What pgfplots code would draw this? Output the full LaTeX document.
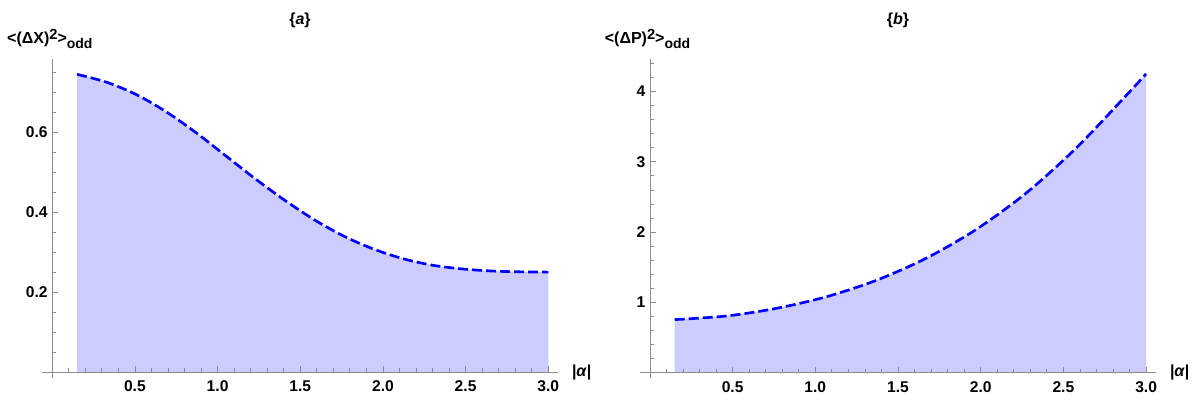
\documentclass[border=0pt]{standalone}
\usepackage{fontspec}
\setmainfont{Liberation Sans}
\usepackage{pgfplots}
\pgfplotsset{compat=1.18}
\usepgfplotslibrary{fillbetween}
\definecolor{fillc}{RGB}{204,204,255}
\definecolor{axc}{RGB}{140,140,140}
\newcommand{\tf}{\fontsize{11.7}{14}\selectfont\bfseries}
\newcommand{\lf}{\fontsize{12}{14}\selectfont\bfseries}
\pgfplotsset{mma/.style={
  axis lines=middle,
  axis line style={axc, -, line width=0.6pt},
  tick style={axc, line width=0.6pt},
  tick align=inside,
  major tick length=4.5pt, minor tick length=3pt,
  width=387pt, height=238.8pt, scale only axis,
  xtick={0.5,1,1.5,2,2.5,3}, xticklabels={0.5,1.0,1.5,2.0,2.5,3.0},
  minor xtick={0.1,0.2,0.3,0.4,0.6,0.7,0.8,0.9,1.1,1.2,1.3,1.4,1.6,1.7,1.8,1.9,2.1,2.2,2.3,2.4,2.6,2.7,2.8,2.9},
  tick label style={font=\tf, black},
  xticklabel style={yshift=-3pt},
  /pgf/number format/assume math mode=true,
  clip=false, axis on top,
}}
\pgfplotstableread{
a v
0.15 0.745
0.33 0.725
0.51 0.694
0.69 0.651
0.87 0.599
1.05 0.541
1.23 0.483
1.41 0.429
1.59 0.380
1.77 0.339
1.95 0.307
2.13 0.283
2.31 0.267
2.49 0.258
2.67 0.253
2.85 0.251
3.00 0.2505
}\dataX
\pgfplotstableread{
a v
0.15 0.755
0.464 0.807
0.766 0.916
1.068 1.081
1.371 1.316
1.673 1.631
1.975 2.041
2.278 2.561
2.58 3.201
2.882 3.950
3.00 4.250
}\dataP
\begin{document}
\begin{tikzpicture}
\begin{axis}[mma, at={(0,0)}, anchor=south west,
  xmin=-0.062, xmax=3.059, ymin=-0.0135, ymax=0.7825,
  ytick={0.2,0.4,0.6}, yticklabels={0.2,0.4,0.6},
  minor ytick={0.05,0.1,0.15,0.25,0.3,0.35,0.45,0.5,0.55,0.65,0.7,0.75}]
\addplot[name path=A, draw=none, smooth] table[x=a,y=v] {\dataX};
\addplot[name path=B, draw=none] coordinates {(0.15,0) (3,0)};
\addplot[fill=fillc, draw=none] fill between[of=A and B];
\addplot[blue, line width=2pt, dash pattern=on 7.5pt off 3pt, smooth] table[x=a,y=v] {\dataX};
\node[anchor=base west, inner sep=0, font=\lf, xshift=-34pt, yshift=12.2pt] at (axis cs:0,0.7825)
  {<(ΔX)\raisebox{3pt}{\fontsize{11}{12}\selectfont 2}>\raisebox{-3.75pt}{\fontsize{10.5}{12}\selectfont odd}};
\node[anchor=west, inner sep=0, font=\lf, xshift=10.3pt] at (axis cs:3.059,0) {|\textit{α}|};
\node[inner sep=0, font=\lf, yshift=29pt] at (rel axis cs:0.5,1) {\{\textit{a}\}};
\end{axis}
\begin{axis}[mma, at={(448.5pt,0)}, anchor=south west,
  xmin=-0.06, xmax=3.06, ymin=-0.071, ymax=4.458,
  ytick={1,2,3,4}, yticklabels={1,2,3,4},
  minor ytick={0.2,0.4,0.6,0.8,1.2,1.4,1.6,1.8,2.2,2.4,2.6,2.8,3.2,3.4,3.6,3.8,4.2,4.4}]
\addplot[name path=A, draw=none, smooth] table[x=a,y=v] {\dataP};
\addplot[name path=B, draw=none] coordinates {(0.15,0) (3,0)};
\addplot[fill=fillc, draw=none] fill between[of=A and B];
\addplot[blue, line width=2pt, dash pattern=on 7.5pt off 3pt, smooth] table[x=a,y=v] {\dataP};
\node[anchor=base west, inner sep=0, font=\lf, xshift=-34pt, yshift=12.2pt] at (axis cs:0,4.458)
  {<(ΔP)\raisebox{3pt}{\fontsize{11}{12}\selectfont 2}>\raisebox{-3.75pt}{\fontsize{10.5}{12}\selectfont odd}};
\node[anchor=west, inner sep=0, font=\lf, xshift=10.3pt] at (axis cs:3.06,0) {|\textit{α}|};
\node[inner sep=0, font=\lf, yshift=29pt] at (rel axis cs:0.5,1) {\{\textit{b}\}};
\end{axis}
\pgfresetboundingbox
\path (-31.5pt,-18.225pt) rectangle (869.25pt,283.275pt);
\end{tikzpicture}
\end{document}
